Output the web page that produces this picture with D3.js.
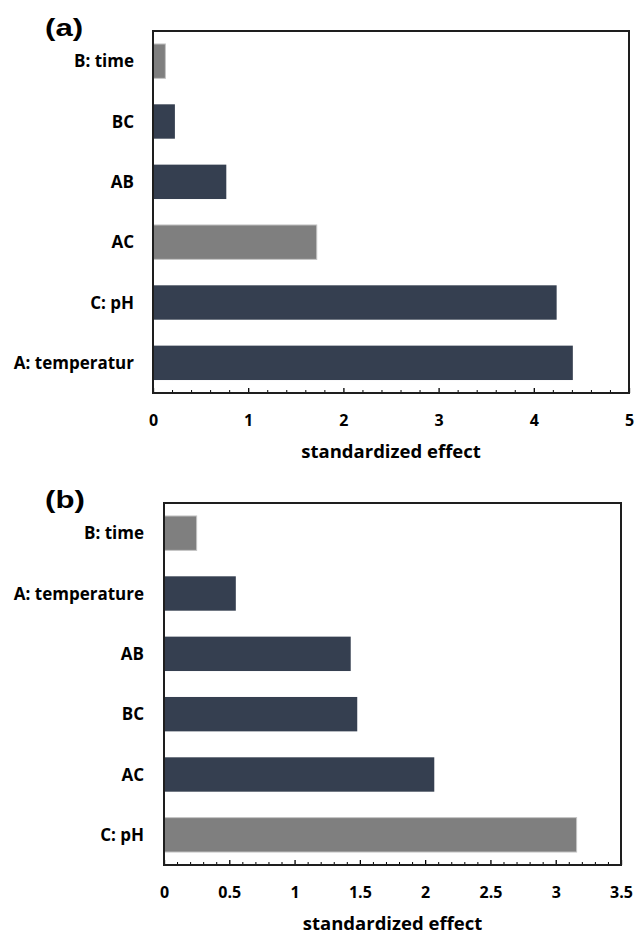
<!DOCTYPE html>
<html>
<head>
<meta charset="utf-8">
<script src="https://cdn.jsdelivr.net/npm/d3@7"></script>
<style>
  html, body { margin: 0; padding: 0; background: #ffffff; }
  svg { display: block; }
  .lbl { font-family: "Open Sans", "Noto Sans", sans-serif; font-weight: 700; fill: #000; }
  .panel-tag { font-family: "Liberation Sans", Arial, sans-serif; font-weight: 700; fill: #000; }
</style>
</head>
<body>
<svg id="chart" width="644" height="934"></svg>
<script>
// Panel (a): standardized effects
const panelACategories = ["B: time", "BC", "AB", "AC", "C: pH", "A: temperatur"];
const panelAValues = [0.13, 0.23, 0.77, 1.72, 4.24, 4.41];
const panelAGrey = ["B: time", "AC"];
const panelATicks = [0, 1, 2, 3, 4, 5];
const panelATickLabels = ["0", "1", "2", "3", "4", "5"];

// Panel (b): standardized effects
const panelBCategories = ["B: time", "A: temperature", "AB", "BC", "AC", "C: pH"];
const panelBValues = [0.25, 0.55, 1.43, 1.48, 2.07, 3.16];
const panelBGrey = ["B: time", "C: pH"];
const panelBTicks = [0, 0.5, 1, 1.5, 2, 2.5, 3, 3.5];
const panelBTickLabels = ["0", "0.5", "1", "1.5", "2", "2.5", "3", "3.5"];

const axisTitle = "standardized effect";
const DARK = "#353f50";
const GREY = "#7f7f7f";

const svg = d3.select("#chart");

function drawPanel(opt) {
  const { tag, categories, values, grey, ticks, tickLabels, minorStep,
          left, right, top, bottom, labelGap } = opt;
  const g = svg.append("g");

  const x = d3.scaleLinear().domain([ticks[0], ticks[ticks.length - 1]]).range([left, right]);
  const y = d3.scaleBand().domain(categories).range([top, bottom])
    .paddingInner(0.43).paddingOuter(0.215);

  // bars
  g.selectAll("rect.bar")
    .data(categories.map((c, i) => ({ c, v: values[i] })))
    .join("rect")
    .attr("class", "bar")
    .attr("x", x(0))
    .attr("y", d => y(d.c))
    .attr("width", d => x(d.v) - x(0))
    .attr("height", y.bandwidth())
    .attr("fill", d => grey.includes(d.c) ? GREY : DARK)
    .attr("stroke", d => grey.includes(d.c) ? "#c4c4c4" : "none")
    .attr("stroke-width", 1);

  // minor ticks (inside, pointing up)
  const domainMax = ticks[ticks.length - 1];
  const minor = d3.range(0, domainMax + minorStep / 2, minorStep)
    .filter(v => !ticks.some(t => Math.abs(t - v) < 1e-6));
  const minorAxis = d3.axisBottom(x).tickValues(minor).tickSize(-3).tickFormat("");
  const gm = g.append("g").attr("transform", `translate(0,${bottom})`).call(minorAxis);
  gm.select(".domain").remove();
  gm.selectAll("line").attr("stroke", "#000").attr("stroke-width", 1);

  // major ticks with labels
  const majorAxis = d3.axisBottom(x).tickValues(ticks).tickSize(-5)
    .tickFormat((d, i) => tickLabels[i]);
  const ga = g.append("g").attr("transform", `translate(0,${bottom})`).call(majorAxis);
  ga.select(".domain").remove();
  ga.selectAll("line").attr("stroke", "#000").attr("stroke-width", 1.3);
  ga.selectAll("text")
    .attr("class", "lbl")
    .attr("y", 33).attr("dy", 0)
    .style("font-size", "16px");

  // plot frame
  g.append("rect")
    .attr("x", left).attr("y", top)
    .attr("width", right - left).attr("height", bottom - top)
    .attr("fill", "none").attr("stroke", "#1e1e1e").attr("stroke-width", 2);

  // category labels
  g.selectAll("text.cat")
    .data(categories)
    .join("text")
    .attr("class", "lbl cat")
    .attr("x", left - labelGap)
    .attr("y", d => y(d) + y.bandwidth() / 2)
    .attr("dy", "0.36em")
    .attr("text-anchor", "end")
    .style("font-size", "17px")
    .text(d => d);

  // x-axis title
  g.append("text")
    .attr("class", "lbl")
    .attr("x", (left + right) / 2)
    .attr("y", bottom + 65)
    .attr("text-anchor", "middle")
    .style("font-size", "18.5px")
    .text(axisTitle);

  // panel tag
  g.append("text")
    .attr("class", "panel-tag")
    .attr("transform", `translate(45,${top + 5}) scale(1.3,1)`)
    .style("font-size", "24px")
    .text(tag);
}

drawPanel({
  tag: "(a)", categories: panelACategories, values: panelAValues, grey: panelAGrey,
  ticks: panelATicks, tickLabels: panelATickLabels, minorStep: 0.2,
  left: 153, right: 629, top: 31, bottom: 393, labelGap: 19
});

drawPanel({
  tag: "(b)", categories: panelBCategories, values: panelBValues, grey: panelBGrey,
  ticks: panelBTicks, tickLabels: panelBTickLabels, minorStep: 0.1,
  left: 164, right: 621, top: 503, bottom: 865, labelGap: 20
});
</script>
</body>
</html>
